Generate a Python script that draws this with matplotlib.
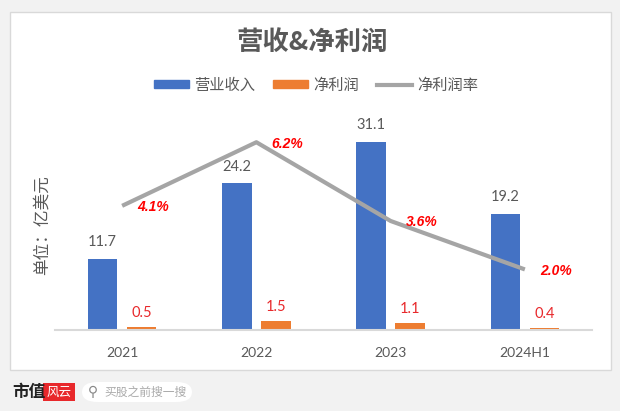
import matplotlib.pyplot as plt
from matplotlib.patches import FancyBboxPatch, Rectangle
from matplotlib.lines import Line2D

plt.rcParams['font.family'] = ['Noto Sans CJK SC', 'DejaVu Sans']

# data
years   = ["2021", "2022", "2023", "2024H1"]
revenue = [11.7, 24.2, 31.1, 19.2]   # 亿美元
profit  = [0.5, 1.5, 1.1, 0.4]       # 亿美元
margin  = [4.1, 6.2, 3.6, 2.0]       # %

blue   = "#4472C4"
orange = "#ED7D31"
gray   = "#A5A5A5"
txt    = "#595959"

W, H = 620, 411
fig = plt.figure(figsize=(W / 100, H / 100), dpi=100)
fig.patch.set_facecolor("#F2F2F2")

def px(x, y):
  # pixel coords (from top-left) -> figure fraction
  return x / W, 1 - y / H

# white panel
panel = Rectangle(px(10, 370), 601 / W, 358 / H, transform=fig.transFigure,
                  facecolor="white", edgecolor="#D9D9D9", linewidth=1, zorder=-10)
fig.patches.append(panel)

ax = fig.add_axes([55 / W, 1 - 330 / H, 537 / W, 212 / H])
ax.set_facecolor("none")
x = list(range(len(years)))
bw = 0.22
off = 0.145
ax.bar([i - off for i in x], revenue, width=bw, color=blue, zorder=2)
ax.bar([i + off for i in x], profit, width=bw, color=orange, zorder=2)
ax.set_xlim(-0.5, 3.5)
ax.set_ylim(0, 35)

for i in x:
  ax.annotate(f"{revenue[i]:.1f}", (i - off, revenue[i]), xytext=(0, 7), textcoords="offset points",
              ha="center", va="bottom", fontsize=10.5, color=txt, family="Lato")
  ax.annotate(f"{profit[i]:.1f}", (i + off, profit[i]), xytext=(0, 5), textcoords="offset points",
              ha="center", va="bottom", fontsize=10.5, color="#E8282B", family="Lato")

for s in ["top", "right", "left"]:
  ax.spines[s].set_visible(False)
ax.spines["bottom"].set_color("#D9D9D9")
ax.spines["bottom"].set_linewidth(1.5)
ax.set_yticks([])
ax.set_xticks(x)
ax.set_xticklabels(years, fontsize=10, color=txt, family="Lato")
ax.tick_params(axis="x", length=0, pad=12)

ax2 = ax.twinx()
ax2.plot(x, margin, color=gray, linewidth=3, solid_capstyle="butt", zorder=3)
ax2.set_ylim(0, 7.0)
ax2.set_yticks([])
for s in ["top", "right", "left", "bottom"]:
  ax2.spines[s].set_visible(False)
for i in x:
  ax2.annotate(f"{margin[i]:.1f}%", (i, margin[i]), xytext=(11, -1), textcoords="offset points",
               ha="left", va="center", fontsize=10, color="#FF0000",
               fontweight="bold", fontstyle="italic", family="Liberation Sans")

# title, y label
fig.text(*px(312, 42), "营收&净利润", ha="center", va="center", fontsize=19,
         fontweight="bold", color=txt)
fig.text(*px(42, 225), "单位：亿美元", ha="center", va="center", rotation=90,
         fontsize=12, color=txt)

# legend
handles = [Rectangle((0, 0), 1, 1, color=blue), Rectangle((0, 0), 1, 1, color=orange),
           Line2D([], [], color=gray, linewidth=3)]
fig.legend(handles, ["营业收入", "净利润", "净利润率"], loc="center", bbox_to_anchor=px(316, 85),
           ncol=3, frameon=False, fontsize=11, labelcolor=txt, handlelength=2.3,
           handleheight=0.5, columnspacing=1.2, handletextpad=0.3)

# footer
fig.text(*px(12, 392), "市值", ha="left", va="center", fontsize=12, fontweight="bold", color="#222222")
logo = Rectangle(px(43, 401), 32 / W, 18 / H, transform=fig.transFigure,
                 facecolor="#E8282B", edgecolor="none")
fig.patches.append(logo)
fig.text(*px(59, 392), "风云", ha="center", va="center", fontsize=9, fontstyle="italic", color="white")
pill = FancyBboxPatch(px(82, 402), 110 / W, 20 / H, boxstyle="round,pad=0,rounding_size=0.025",
                      transform=fig.transFigure, facecolor="white", edgecolor="none")
fig.patches.append(pill)
fig.text(*px(88, 392), "⚲", ha="left", va="center", fontsize=10, color="#888888", family="DejaVu Sans")
fig.text(*px(104, 392), "买股之前搜一搜", ha="left", va="center", fontsize=8.5, color="#AAAAAA")

fig.savefig("out.png", dpi=100)
